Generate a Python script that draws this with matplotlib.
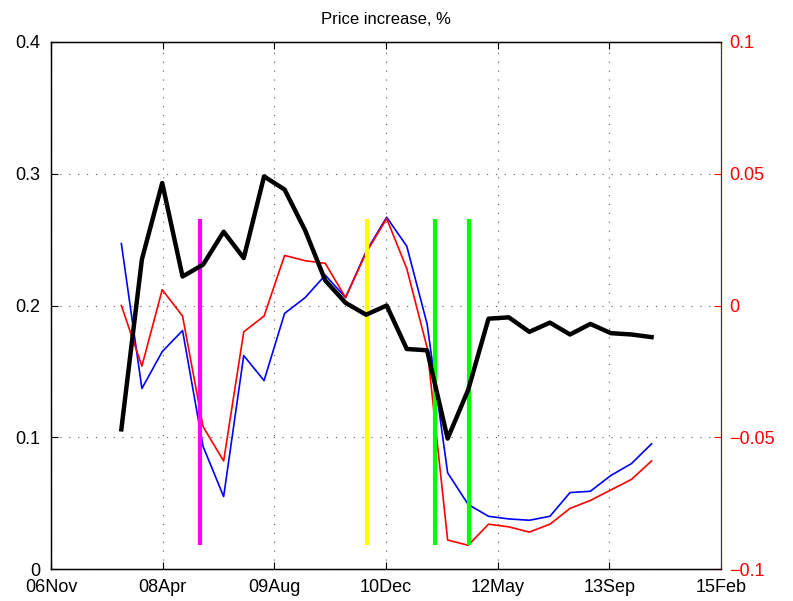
import matplotlib
matplotlib.use("Agg")
import matplotlib.pyplot as plt
import matplotlib.dates as mdates
from matplotlib.ticker import FuncFormatter
import pandas as pd

plt.rcParams['font.family'] = ['Liberation Sans', 'DejaVu Sans']

# quarterly observations
dates = pd.date_range('2007-09-30', periods=27, freq='QE')

black = [0.106, 0.235, 0.293, 0.222, 0.231, 0.256, 0.236, 0.298, 0.288, 0.257,
         0.219, 0.202, 0.193, 0.200, 0.167, 0.166, 0.099, 0.136, 0.190, 0.191,
         0.180, 0.187, 0.178, 0.186, 0.179, 0.178, 0.176]

blue = [0.247, 0.137, 0.165, 0.181, 0.093, 0.055, 0.162, 0.143, 0.194, 0.206,
        0.223, 0.206, 0.241, 0.267, 0.245, 0.186, 0.073, 0.049, 0.040, 0.038,
        0.037, 0.040, 0.058, 0.059, 0.071, 0.080, 0.095]

# right axis
red = [0.000, -0.023, 0.006, -0.004, -0.046, -0.059, -0.010, -0.004, 0.019, 0.017,
       0.016, 0.003, 0.020, 0.033, 0.014, -0.016, -0.089, -0.091, -0.083, -0.084,
       -0.086, -0.083, -0.077, -0.074, -0.070, -0.066, -0.059]

events = pd.to_datetime(['2008-09-15', '2010-10-03', '2011-08-05', '2012-01-04'])
event_colors = ['#ff00ff', '#ffff00', '#00ff00', '#00ff00']

xticks = pd.date_range('2006-11-19', periods=7, freq='500D')
left_ticks = [0, 0.1, 0.2, 0.3, 0.4]
right_ticks = [-0.1, -0.05, 0, 0.05, 0.1]

fmt = FuncFormatter(lambda v, p: ('%g' % v).replace('-', '\u2212'))

fig = plt.figure(figsize=(7.93, 6.01), dpi=100)
ax = fig.add_axes([51 / 793, 1 - 569 / 601, 670 / 793, 527 / 601])
ax2 = ax.twinx()
ax3 = ax.twinx()

ax.plot(dates, blue, color='blue', lw=1.2)
ax2.plot(dates, red, color='red', lw=1.2)
ax2.vlines(events, min(red), max(red), colors=event_colors, lw=3)
ax3.plot(dates, black, color='black', lw=3.2)

ax.set_xlim(xticks[0], xticks[-1])
ax.set_ylim(0, 0.4)
ax3.set_ylim(0, 0.4)
ax2.set_ylim(-0.1, 0.1)

ax.set_xticks(xticks)
ax.xaxis.set_major_formatter(mdates.DateFormatter('%y%b'))
ax.set_yticks(left_ticks)
ax.yaxis.set_major_formatter(fmt)
ax2.set_yticks(right_ticks)
ax2.yaxis.set_major_formatter(fmt)
ax3.set_yticks([])
ax3.axis('off')

ax.grid(True, color='0.35', linestyle=(0, (1, 7)), lw=0.8)
ax.tick_params(direction='in', length=5, labelsize=13, top=True, pad=8)
ax.tick_params(axis='x', pad=7)
ax2.tick_params(direction='in', length=5, labelsize=13, colors='red', pad=6)
ax2.spines['right'].set_color('#b00000')
for s in ['left', 'top', 'bottom']:
    ax.spines[s].set_linewidth(1.0)

ax.set_title('Price increase, %', fontsize=12, pad=13)

fig.savefig('out.png', dpi=100)
